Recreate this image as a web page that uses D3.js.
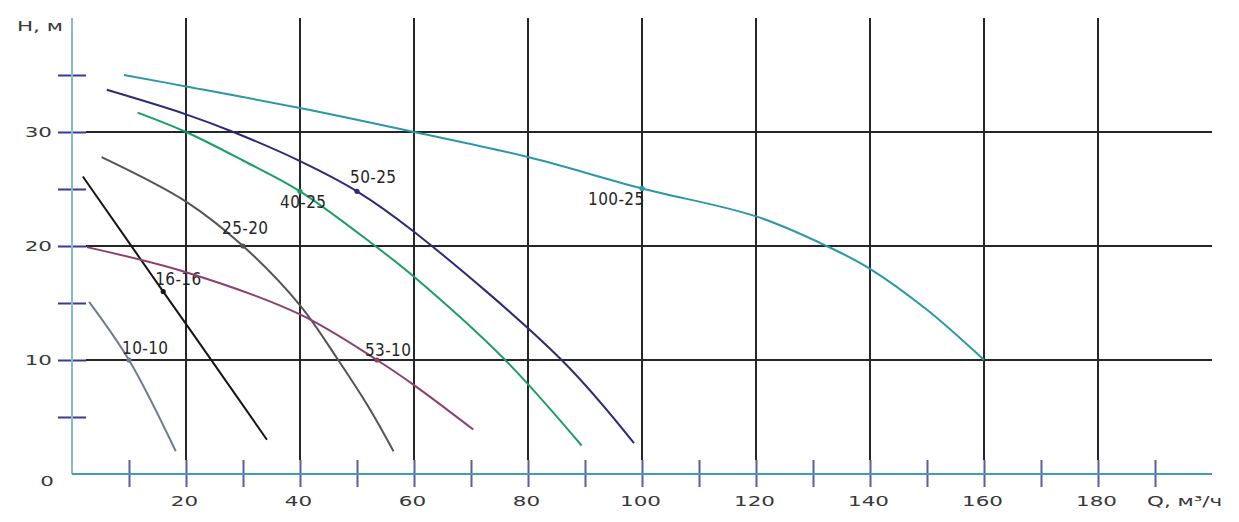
<!DOCTYPE html>
<html>
<head>
<meta charset="utf-8">
<script src="https://cdn.jsdelivr.net/npm/d3@7"></script>
<style>
body { margin: 0; background: #fff; }
.grid line { stroke: #262626; stroke-width: 2; }
.curve { fill: none; stroke-width: 2; }
.lbl { font-family: "DejaVu Sans Condensed", "DejaVu Sans", sans-serif; font-stretch: condensed; font-size: 17px; letter-spacing: 0.4px; fill: #262626; }
.ax { font-family: "DejaVu Sans", sans-serif; font-size: 14.5px; fill: #383838; }
</style>
</head>
<body>
<svg width="1239" height="522"></svg>
<script>
// tick values
var xLabels = [20, 40, 60, 80, 100, 120, 140, 160, 180];
var xMinor = [10, 20, 30, 40, 50, 60, 70, 80, 90, 100, 110, 120, 130, 140, 150, 160, 170, 180, 190];
var yLabels = [10, 20, 30];
var yMinor = [5, 10, 15, 20, 25, 30, 35];

// pump curves: Q (m3/h) and H (m)
var names = ["10-10", "16-16", "25-20", "53-10", "40-25", "50-25", "100-25"];
var q1010 = [3, 10, 18.2];
var h1010 = [15.1, 10, 2];
var q1616 = [1.9, 16, 25, 34.2];
var h1616 = [26.1, 16, 9.6, 3.0];
var q2520 = [5.2, 20, 30, 40, 46.7, 52, 56.4];
var h2520 = [27.8, 23.9, 20, 14.8, 10, 5.9, 2];
var q5310 = [2.6, 20, 40, 53.5, 60, 70.4];
var h5310 = [19.9, 17.7, 14, 10, 7.8, 3.9];
var q4025 = [11.5, 20, 30, 40, 53.2, 60, 76, 89.4];
var h4025 = [31.7, 30, 27.5, 24.8, 20, 17.3, 10, 2.5];
var q5025 = [6.1, 20, 28.3, 40, 50, 60, 85.9, 98.6];
var h5025 = [33.7, 31.55, 30, 27.45, 24.8, 21.25, 10, 2.7];
var q10025 = [9.1, 20, 40, 60, 80, 100, 120, 132.4, 140, 150, 160];
var h10025 = [35.0, 34.0, 32.1, 30.0, 27.8, 25.05, 22.6, 20, 18.0, 14.4, 10.0];
// marked duty points
var markQ = [10, 16, 30, 53.5, 40, 50, 100];
var markH = [10, 16, 20, 10, 24.8, 24.8, 25.05];

var colors = ["#6e7b90", "#161616", "#545454", "#8c3f6c", "#1b9e66", "#2e2a7a", "#2a98a8"];
// label offset from the marked point, px
var offsets = [[-7, -6], [-8, -7], [-21, -12], [-12, -4], [-20, 17], [-7, -8], [-54, 17]];

var curves = [
    [q1010, h1010], [q1616, h1616], [q2520, h2520], [q5310, h5310],
    [q4025, h4025], [q5025, h5025], [q10025, h10025]
];

var svg = d3.select("svg");
var x = d3.scaleLinear().domain([0, 200]).range([72, 1212]);
var y = d3.scaleLinear().domain([0, 40]).range([474, 18]);

var grid = svg.append("g").attr("class", "grid");
grid.selectAll(".v")
    .data(xLabels)
    .enter()
    .append("line")
    .attr("x1", (d) => x(d))
    .attr("x2", (d) => x(d))
    .attr("y1", y(40))
    .attr("y2", y(0) - 14);
grid.selectAll(".h")
    .data(yLabels)
    .enter()
    .append("line")
    .attr("x1", x(0) + 14)
    .attr("x2", x(200))
    .attr("y1", (d) => y(d))
    .attr("y2", (d) => y(d));

// tick marks
var yAx = svg.append("g")
    .attr("transform", "translate(" + (x(0) + 14) + ",0)")
    .call(d3.axisLeft(y).tickValues(yMinor).tickSize(28).tickFormat(""));
yAx.select(".domain").remove();
yAx.selectAll("line").attr("stroke", "#3a3a8e").attr("stroke-width", 2);

var xAx = svg.append("g")
    .attr("transform", "translate(0," + (y(0) - 14) + ")")
    .call(d3.axisBottom(x).tickValues(xMinor).tickSize(27).tickFormat(""));
xAx.select(".domain").remove();
xAx.selectAll("line").attr("stroke", "#5e5b9e").attr("stroke-width", 2);

// axis lines
svg.append("line")
    .attr("x1", x(0)).attr("x2", x(0))
    .attr("y1", y(40)).attr("y2", y(0))
    .attr("stroke", "#8cb8cc").attr("stroke-width", 2);
svg.append("line")
    .attr("x1", x(0)).attr("x2", x(200))
    .attr("y1", y(0)).attr("y2", y(0))
    .attr("stroke", "#3f9db6").attr("stroke-width", 2);

// axis labels
var sx = " scale(1.48,1)";
svg.selectAll(".yl")
    .data(yLabels)
    .enter()
    .append("text")
    .attr("class", "ax")
    .attr("text-anchor", "end")
    .attr("dy", "0.36em")
    .attr("transform", (d) => "translate(52," + y(d) + ")" + sx)
    .text((d) => d);
svg.append("text")
    .attr("class", "ax")
    .attr("text-anchor", "end")
    .attr("dy", "0.36em")
    .attr("transform", "translate(54," + (y(0) + 7) + ")" + sx)
    .text("0");
svg.selectAll(".xl")
    .data(xLabels)
    .enter()
    .append("text")
    .attr("class", "ax")
    .attr("text-anchor", "middle")
    .attr("transform", (d) => "translate(" + (x(d) - 1.5) + ",506)" + sx)
    .text((d) => d);
svg.append("text")
    .attr("class", "ax")
    .attr("transform", "translate(17,31)" + sx)
    .text("H, м");
svg.append("text")
    .attr("class", "ax")
    .attr("transform", "translate(1147,506)" + sx)
    .text("Q, м³/ч");

// curves
var line = d3.line()
    .x((d) => x(d[0]))
    .y((d) => y(d[1]))
    .curve(d3.curveCatmullRom.alpha(0.5));

curves.forEach(function(c, i) {
    var pts = c[0].map((q, j) => [q, c[1][j]]);
    svg.append("path")
        .attr("class", "curve")
        .attr("stroke", colors[i])
        .attr("d", line(pts));
    svg.append("circle")
        .attr("cx", x(markQ[i]))
        .attr("cy", y(markH[i]))
        .attr("r", 2.6)
        .attr("fill", colors[i]);
    svg.append("text")
        .attr("class", "lbl")
        .attr("x", x(markQ[i]) + offsets[i][0])
        .attr("y", y(markH[i]) + offsets[i][1])
        .text(names[i]);
});
</script>
</body>
</html>
